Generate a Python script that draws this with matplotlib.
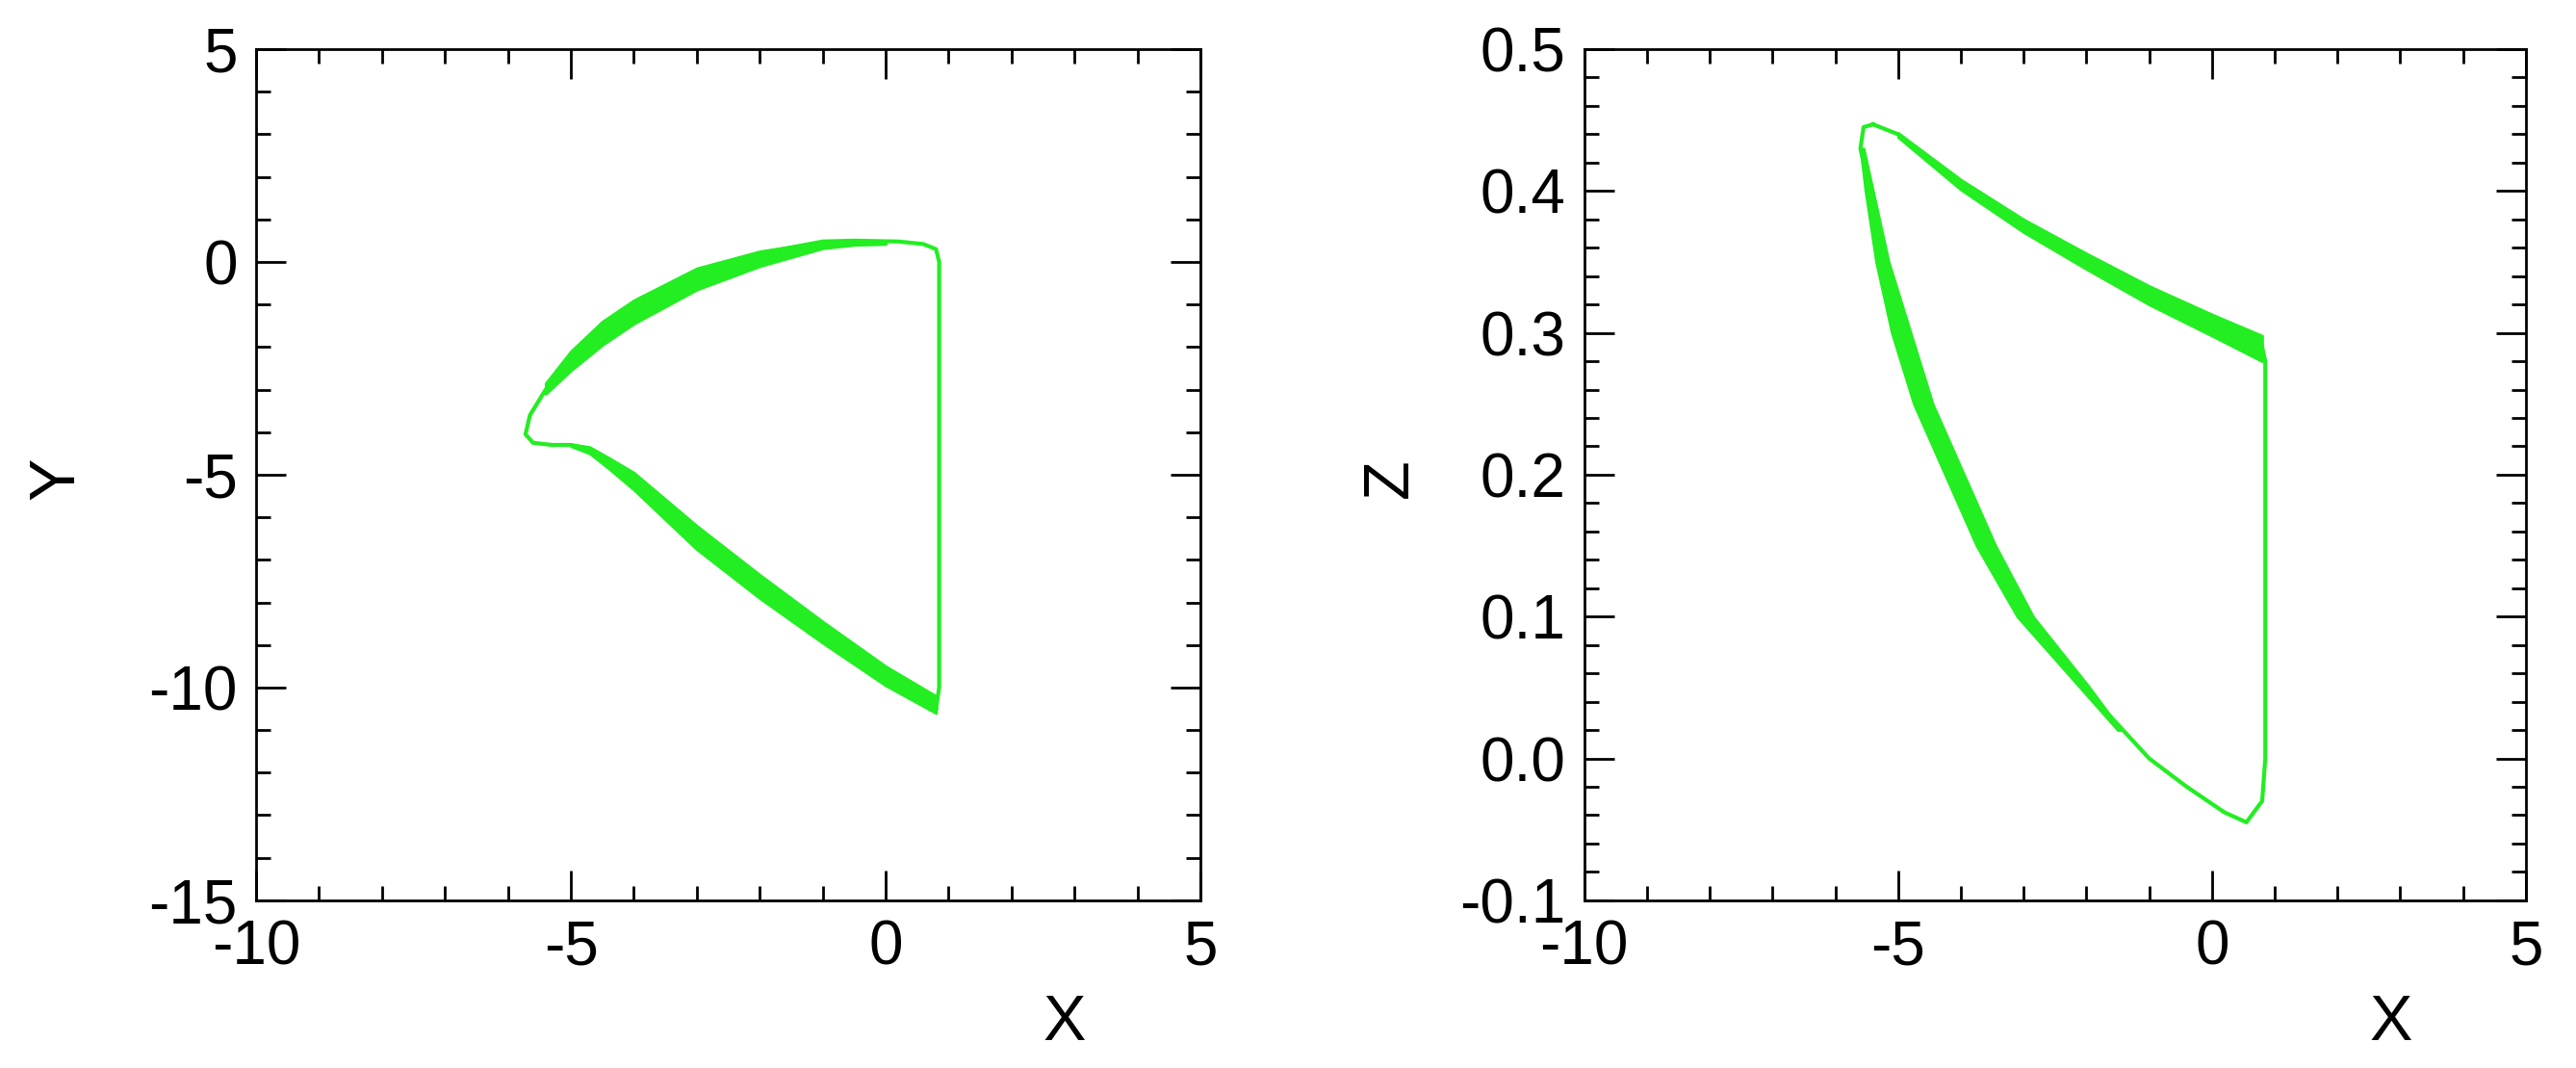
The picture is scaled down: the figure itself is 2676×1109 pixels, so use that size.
import matplotlib
matplotlib.use("Agg")
import matplotlib.pyplot as plt
from matplotlib.ticker import MultipleLocator

plt.rcParams['font.family'] = ['Liberation Sans', 'DejaVu Sans']
plt.rcParams['axes.unicode_minus'] = False
GREEN = '#22ee22'

# XY panel: main loop path
xy_x = [0.8, 0.85, 0.85, 0.8, 0.6, 0.2, -0.5, -1, -2, -3, -4, -4.5, -5, -5.4, -5.65, -5.72, -5.6, -5.3, -5.0, -4.7, -4.4, -4.0, -3, -2, -1, 0, 0.5, 0.8]
xy_y = [-10.5, -10.0, 0.0, 0.3, 0.42, 0.48, 0.5, 0.48, 0.2, -0.3, -1.1, -1.6, -2.3, -3.0, -3.6, -4.05, -4.25, -4.3, -4.3, -4.4, -4.7, -5.1, -6.4, -7.6, -8.7, -9.7, -10.2, -10.5]
# XY bands (edges)
xy_ua_x = [0.0, -0.5, -1, -2, -3, -4, -4.5, -5, -5.4]
xy_ua_y1 = [0.48, 0.5, 0.48, 0.25, -0.15, -0.9, -1.4, -2.1, -2.85]
xy_ua_y2 = [0.42, 0.4, 0.32, -0.1, -0.65, -1.45, -1.95, -2.55, -3.1]
xy_lb_x = [-5, -4.7, -4.4, -4, -3, -2, -1, 0, 0.8]
xy_lb_y1 = [-4.28, -4.35, -4.6, -4.95, -6.2, -7.35, -8.45, -9.5, -10.2]
xy_lb_y2 = [-4.33, -4.5, -4.85, -5.35, -6.75, -7.9, -8.95, -9.95, -10.6]

# XZ panel: main loop path
xz_x = [-5.4, -5.0, -4, -3, -2, -1, 0, 0.8, 0.85, 0.85, 0.8, 0.55, 0.2, -0.4, -1.0, -2.0, -3.0, -3.6, -4.1, -4.6, -4.95, -5.25, -5.45, -5.6, -5.55, -5.4]
xz_z = [0.447, 0.44, 0.405, 0.375, 0.35, 0.327, 0.306, 0.29, 0.28, 0.0, -0.03, -0.045, -0.038, -0.02, 0.0, 0.048, 0.1, 0.15, 0.2, 0.25, 0.3, 0.35, 0.4, 0.43, 0.445, 0.447]
# XZ bands
xz_tb_x = [-5, -4, -3, -2, -1, 0, 0.8]
xz_tb_z1 = [0.441, 0.408, 0.38, 0.356, 0.333, 0.313, 0.298]
xz_tb_z2 = [0.438, 0.401, 0.371, 0.345, 0.32, 0.298, 0.28]
xz_lb_z = [0.02, 0.05, 0.1, 0.15, 0.2, 0.25, 0.3, 0.35, 0.4, 0.43]
xz_lb_x1 = [-1.5, -2.1, -3.1, -3.75, -4.25, -4.75, -5.1, -5.35, -5.52, -5.6]
xz_lb_x2 = [-1.45, -1.95, -2.85, -3.45, -3.95, -4.45, -4.8, -5.15, -5.4, -5.55]

fig = plt.figure(figsize=(26.76, 11.09), dpi=100)
ax1 = fig.add_axes([0.0994, 0.157, 0.3666, 0.797])
ax2 = fig.add_axes([0.615, 0.157, 0.3655, 0.797])

ax1.plot(xy_x, xy_y, color=GREEN, lw=3)
ax1.fill_between(xy_ua_x, xy_ua_y1, xy_ua_y2, color=GREEN, lw=2, edgecolor=GREEN)
ax1.fill_between(xy_lb_x, xy_lb_y1, xy_lb_y2, color=GREEN, lw=2, edgecolor=GREEN)
ax2.plot(xz_x, xz_z, color=GREEN, lw=3)
ax2.fill_between(xz_tb_x, xz_tb_z1, xz_tb_z2, color=GREEN, lw=2, edgecolor=GREEN)
ax2.fill_betweenx(xz_lb_z, xz_lb_x1, xz_lb_x2, color=GREEN, lw=2, edgecolor=GREEN)

ax1.set_xlim(-10, 5); ax1.set_ylim(-15, 5)
ax2.set_xlim(-10, 5); ax2.set_ylim(-0.1, 0.5)
ax1.set_xticks([-10, -5, 0, 5]); ax1.set_yticks([-15, -10, -5, 0, 5])
ax1.xaxis.set_minor_locator(MultipleLocator(1)); ax1.yaxis.set_minor_locator(MultipleLocator(1))
ax2.set_xticks([-10, -5, 0, 5]); ax2.set_yticks([-0.1, 0, 0.1, 0.2, 0.3, 0.4, 0.5])
ax2.set_yticklabels(['-0.1', '0.0', '0.1', '0.2', '0.3', '0.4', '0.5'])
ax2.xaxis.set_minor_locator(MultipleLocator(1)); ax2.yaxis.set_minor_locator(MultipleLocator(0.02))

for ax in (ax1, ax2):
    for s in ax.spines.values():
        s.set_linewidth(2)
    ax.tick_params(which='both', direction='in', top=True, right=True, labelsize=46, width=2, pad=14)
    ax.tick_params(which='major', length=22)
    ax.tick_params(which='minor', length=11)

fig.text(1106 / 2676, 1 - 1063 / 1109, 'X', fontsize=48, ha='center', va='center')
fig.text(2484 / 2676, 1 - 1063 / 1109, 'X', fontsize=48, ha='center', va='center')
fig.text(60 / 2676, 1 - 497 / 1109, 'Y', fontsize=48, ha='center', va='center', rotation=90)
fig.text(1445 / 2676, 1 - 497 / 1109, 'Z', fontsize=48, ha='center', va='center', rotation=90)

fig.savefig('out.png', dpi=100)
